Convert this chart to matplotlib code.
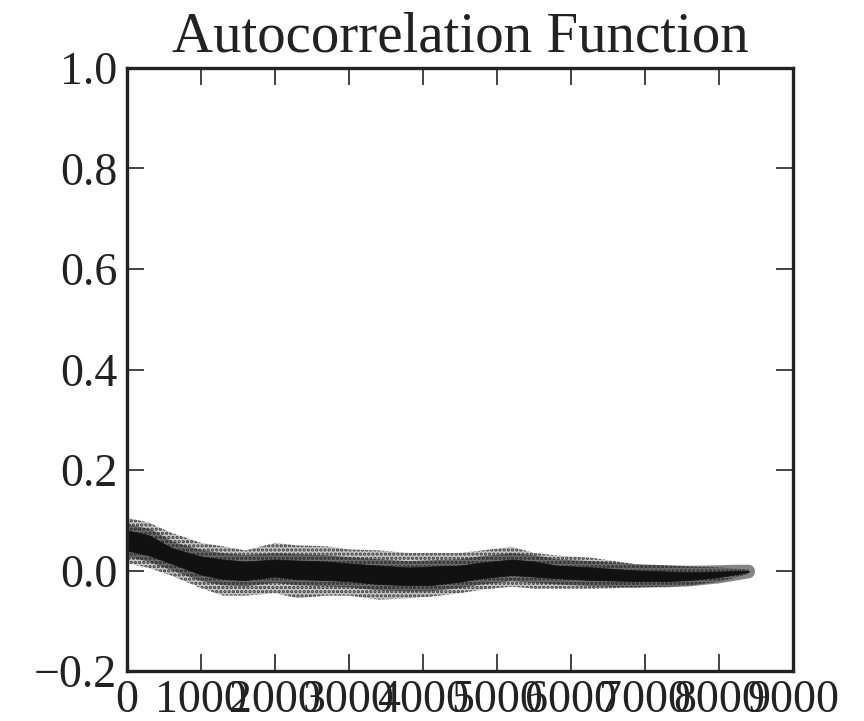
import matplotlib
matplotlib.use("Agg")
import matplotlib.pyplot as plt

lags = [0, 300, 600, 1000, 1300, 1600, 2000, 2300, 2700, 3000, 3400, 3800,
        4100, 4500, 4800, 5200, 5500, 5800, 6300, 6900, 7300, 7600, 8000, 8200, 8400]

# Outer (sparse scatter) envelope of the autocorrelation values
outer_upper = [0.105, 0.095, 0.075, 0.055, 0.048, 0.040, 0.055, 0.050, 0.048, 0.042,
               0.040, 0.035, 0.035, 0.035, 0.040, 0.047, 0.035, 0.030, 0.025, 0.012,
               0.010, 0.008, 0.006, 0.004, 0.002]
outer_lower = [0.015, 0.005, -0.010, -0.035, -0.050, -0.050, -0.045, -0.055, -0.050,
               -0.050, -0.058, -0.055, -0.052, -0.045, -0.038, -0.032, -0.036, -0.036,
               -0.036, -0.034, -0.032, -0.030, -0.022, -0.015, -0.006]

# Dense core of the scatter cloud
core_upper = [0.080, 0.070, 0.045, 0.028, 0.022, 0.018, 0.022, 0.020, 0.018, 0.014,
              0.010, 0.006, 0.008, 0.010, 0.016, 0.022, 0.018, 0.010, 0.006, 0.000,
              -0.002, -0.003, -0.002, -0.001, -0.001]
core_lower = [0.040, 0.030, 0.014, -0.008, -0.017, -0.019, -0.012, -0.017, -0.019,
              -0.021, -0.027, -0.029, -0.029, -0.022, -0.015, -0.009, -0.012, -0.015,
              -0.019, -0.021, -0.021, -0.019, -0.013, -0.008, -0.003]

title = "Autocorrelation Function"
x_ticks = [0, 1000, 2000, 3000, 4000, 5000, 6000, 7000, 8000, 9000]
y_ticks = [-0.2, 0.0, 0.2, 0.4, 0.6, 0.8, 1.0]

plt.rcParams['font.family'] = ['Liberation Serif', 'DejaVu Serif']
plt.rcParams['hatch.linewidth'] = 1.6

fig = plt.figure(figsize=(8.64, 7.21), dpi=100)
ax = fig.add_axes([0.147, 0.0693, 0.771, 0.8364])

# sparse outer speckle
ax.fill_between(lags, outer_lower, outer_upper, facecolor='#c8c8c8',
                edgecolor='#3a3a3a', hatch='....', linewidth=0)
# soft halo around the dense core
ax.fill_between(lags, core_lower, core_upper, facecolor='none',
                edgecolor='#202020', alpha=0.55, linewidth=9)
# dense core
ax.fill_between(lags, core_lower, core_upper, facecolor='#111111',
                edgecolor='#111111', linewidth=0.5)

ax.set_xlim(0, 9000)
ax.set_ylim(-0.2, 1.0)
ax.set_xticks(x_ticks)
ax.set_xticklabels([str(t) for t in x_ticks])
ax.set_yticks(y_ticks)
ax.set_yticklabels([f"{t:.1f}".replace('-', '\u2212') for t in y_ticks])

ax.tick_params(direction='in', top=True, right=True, length=12, width=1.2,
               labelsize=33, color='#222222', labelcolor='#222222')
ax.tick_params(axis='x', pad=6)
ax.tick_params(axis='y', pad=7)
for s in ax.spines.values():
    s.set_linewidth(2.4)
    s.set_color('#222222')

ax.set_title(title, fontsize=41, pad=12, color='#222222')

fig.savefig("out.png", dpi=100, facecolor='white')
